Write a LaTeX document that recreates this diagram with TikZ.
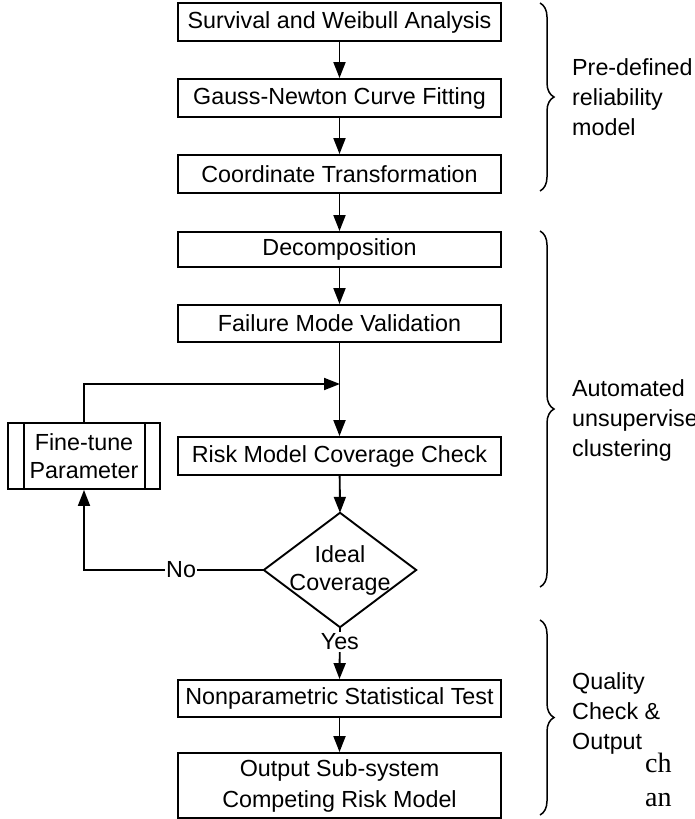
\documentclass[tikz,border=0pt]{standalone}
\usepackage{fontspec}
\setmainfont{Liberation Sans}
\newfontfamily\serifpart{Liberation Serif}
\usetikzlibrary{arrows.meta,decorations.pathreplacing}
\begin{document}
\begin{tikzpicture}[x=1pt,y=-1pt,
  every node/.style={font=\fontsize{23.3}{28}\selectfont},
  proc/.style={draw,line width=1.9pt,minimum width=323pt,minimum height=38pt,inner sep=0pt,align=center},
  conn/.style={line width=1.9pt,-{Triangle[length=16pt,width=12pt]}},
  plain/.style={line width=1.9pt},
  brc/.style={decorate,decoration={brace,amplitude=14pt},line width=1.5pt},
  side/.style={anchor=west,align=left,inner sep=0pt,font=\fontsize{23.3}{30}\selectfont}]
\useasboundingbox (0,0) rectangle (695,819);
\node[proc] (b1) at (339.5,22) {Survival and Weibull Analysis};
\node[proc] (b2) at (339.5,98) {Gauss-Newton Curve Fitting};
\node[proc] (b3) at (339.5,174) {Coordinate Transformation};
\node[proc,minimum height=35pt] (b4) at (339.5,249.5) {Decomposition};
\node[proc,minimum height=37pt] (b5) at (339.5,323.5) {Failure Mode Validation};
\node[proc] (b6) at (339.5,456) {Risk Model Coverage Check};
\node[minimum width=152pt,minimum height=114pt,inner sep=0pt,align=center] (dec) at (340,570) {Ideal\\Coverage};
\draw[plain] (dec.north) -- (dec.east) -- (dec.south) -- (dec.west) -- cycle;
\node[proc,minimum height=37pt] (b7) at (339.5,698.5) {Nonparametric Statistical Test};
\node[proc,minimum height=65pt,font=\fontsize{23.3}{31}\selectfont] (b8) at (339.5,785.5) {Output Sub-system\\Competing Risk Model};
\node[draw,line width=1.9pt,minimum width=152pt,minimum height=66pt,inner sep=0pt,align=center] (ft) at (84,456) {Fine-tune\\Parameter};
\draw[plain] ([xshift=-60pt]ft.north) -- ([xshift=-60pt]ft.south);
\draw[plain] ([xshift=61pt]ft.north) -- ([xshift=61pt]ft.south);
\coordinate (j) at (340,384);
\draw[conn] (b1) -- (b2);
\draw[conn] (b2) -- (b3);
\draw[conn] (b3) -- (b4);
\draw[conn] (b4) -- (b5);
\draw[conn] (b5.south) -- (b6.north);
\draw[conn] (ft.north) |- (j);
\draw[conn] (b6) -- (dec.north);
\draw[conn] (dec.west) -| node[pos=0.23,fill=white,inner sep=1pt] {No} (ft.south);
\draw[conn] (dec.south) -- node[pos=0.28,fill=white,inner sep=2pt] {Yes} (b7.north);
\draw[conn] (b7) -- (b8);
\draw[brc] (540,3) -- (540,191);
\draw[brc] (540,231) -- (540,587);
\draw[brc] (540,620) -- (540,815);
\node[side] (l1) at (572,97) {Pre-defined\\reliability\\model};
\node[side] (l2) at (572,420) {Automated\\unsupervise\\clustering};
\node[side] (l3) at (572,713) {Quality\\Check \&\\Output};
\node[anchor=west,inner sep=0pt,font=\serifpart\fontsize{28}{30}\selectfont] (s1) at (645,763) {ch};
\node[anchor=west,inner sep=0pt,font=\serifpart\fontsize{28}{30}\selectfont] (s2) at (645,800) {an};
\end{tikzpicture}
\end{document}
